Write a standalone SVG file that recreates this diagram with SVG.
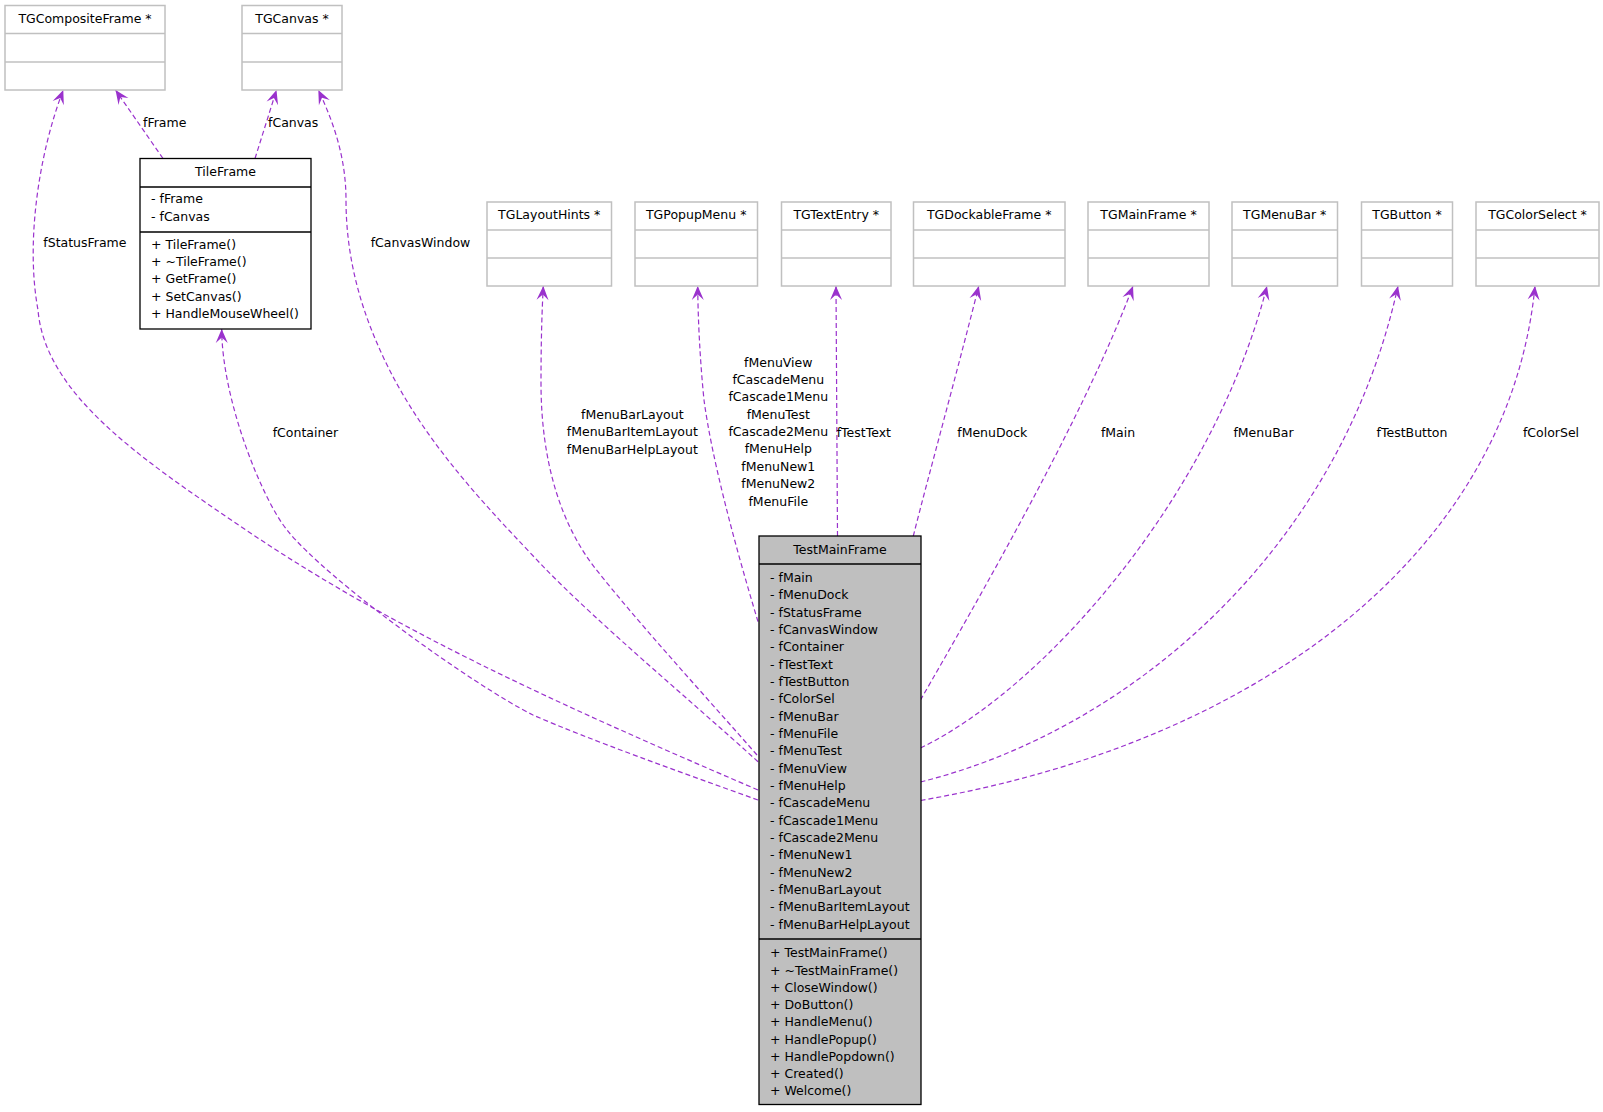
<svg xmlns="http://www.w3.org/2000/svg" width="1603" height="1112" viewBox="0 0 1603 1112">
<style>
text{font-family:"DejaVu Sans","Liberation Sans",sans-serif;font-size:12.5px;fill:#000}
.mid{text-anchor:middle}
.ext rect{fill:#fff;stroke:#c0c0c0;stroke-width:1.5}
.ext line{stroke:#c0c0c0;stroke-width:1.5}
.cls rect{stroke:#000;stroke-width:1.3}
.cls line{stroke:#000;stroke-width:1.3}
.edge path{fill:none;stroke:#9a32cd;stroke-width:1.2;stroke-dasharray:5,3}
</style>
<defs>
<marker id="vee" markerUnits="userSpaceOnUse" markerWidth="15" markerHeight="13" refX="14" refY="6" orient="auto" viewBox="0 0 15 12" overflow="visible">
<path d="M14,6 L0,0 L5.5,6 L0,12 Z" fill="#9a32cd" stroke="none"/>
</marker>
</defs>
<rect width="1603" height="1112" fill="#fff"/>

<g id="connectors" class="edge">
<path id="e-fFrame" d="M163,158.5 L115.5,90" marker-end="url(#vee)"/>
<path id="e-fCanvas" d="M255,158.5 L276.5,90" marker-end="url(#vee)"/>
<path id="e-fStatusFrame" d="M758,790 C558,704 393,630 243,528 C143,460 45,395 38,310 C25,240 40,150 63.3,90" marker-end="url(#vee)"/>
<path id="e-fContainer" d="M758,800 C680,772 590,740 533,715 C473,685 327,580 287,530 C262,499 222,400 221.7,329" marker-end="url(#vee)"/>
<path id="e-fCanvasWindow" d="M758,761.7 C690,700 600,625 543.3,566.7 C490,510 420,440 380,350 C362,310 346,260 346,200 C346,160 335,125 318.3,90" marker-end="url(#vee)"/>
<path id="e-layout" d="M757,755 C700,690 640,625 595,568 C560,523 541,460 541,383 C541,340 542,310 543.3,286" marker-end="url(#vee)"/>
<path id="e-popup" d="M758,621.7 C735,545 712,460 704,400 C700,360 698,320 697.7,286" marker-end="url(#vee)"/>
<path id="e-fTestText" d="M837.5,536 L836,286" marker-end="url(#vee)"/>
<path id="e-fMenuDock" d="M913.3,536 C930,470 955,380 978.8,286" marker-end="url(#vee)"/>
<path id="e-fMain" d="M920.5,700 C975,605 1085,415 1133,286" marker-end="url(#vee)"/>
<path id="e-fMenuBar" d="M920.5,748 C1050,685 1215,490 1267,286" marker-end="url(#vee)"/>
<path id="e-fTestButton" d="M920.5,782 C1130,730 1340,550 1398,286" marker-end="url(#vee)"/>
<path id="e-fColorSel" d="M920.5,800.5 C1270,740 1510,545 1535,286" marker-end="url(#vee)"/>
</g>

<g id="edge-labels">
<text x="143" y="127">fFrame</text>
<text x="268" y="127">fCanvas</text>
<text x="43.3" y="246.7">fStatusFrame</text>
<text x="370.7" y="246.7">fCanvasWindow</text>
<text x="272.7" y="436.7">fContainer</text>
<text class="mid" x="632.3" y="419">fMenuBarLayout<tspan x="632.3" dy="17.35">fMenuBarItemLayout</tspan><tspan x="632.3" dy="17.35">fMenuBarHelpLayout</tspan></text>
<text class="mid" x="778.3" y="366.7">fMenuView<tspan x="778.3" dy="17.35">fCascadeMenu</tspan><tspan x="778.3" dy="17.35">fCascade1Menu</tspan><tspan x="778.3" dy="17.35">fMenuTest</tspan><tspan x="778.3" dy="17.35">fCascade2Menu</tspan><tspan x="778.3" dy="17.35">fMenuHelp</tspan><tspan x="778.3" dy="17.35">fMenuNew1</tspan><tspan x="778.3" dy="17.35">fMenuNew2</tspan><tspan x="778.3" dy="17.35">fMenuFile</tspan></text>
<text x="836.7" y="436.7">fTestText</text>
<text class="mid" x="992.3" y="436.7">fMenuDock</text>
<text class="mid" x="1118" y="436.7">fMain</text>
<text class="mid" x="1263.5" y="436.7">fMenuBar</text>
<text class="mid" x="1412" y="436.7">fTestButton</text>
<text class="mid" x="1551" y="436.7">fColorSel</text>
</g>

<g id="TGCompositeFrame" class="ext">
<rect x="5" y="5.5" width="160" height="84.5"/>
<line x1="5" y1="33.5" x2="165" y2="33.5"/><line x1="5" y1="62" x2="165" y2="62"/>
<text class="mid" x="85" y="22.7">TGCompositeFrame *</text>
</g>
<g id="TGCanvas" class="ext">
<rect x="242" y="5.5" width="100" height="84.5"/>
<line x1="242" y1="33.5" x2="342" y2="33.5"/><line x1="242" y1="62" x2="342" y2="62"/>
<text class="mid" x="292" y="22.7">TGCanvas *</text>
</g>
<g id="TGLayoutHints" class="ext">
<rect x="487" y="202" width="124.5" height="84"/>
<line x1="487" y1="230" x2="611.5" y2="230"/><line x1="487" y1="258" x2="611.5" y2="258"/>
<text class="mid" x="549.2" y="219.3">TGLayoutHints *</text>
</g>
<g id="TGPopupMenu" class="ext">
<rect x="635" y="202" width="122.5" height="84"/>
<line x1="635" y1="230" x2="757.5" y2="230"/><line x1="635" y1="258" x2="757.5" y2="258"/>
<text class="mid" x="696.2" y="219.3">TGPopupMenu *</text>
</g>
<g id="TGTextEntry" class="ext">
<rect x="781.5" y="202" width="109.5" height="84"/>
<line x1="781.5" y1="230" x2="891" y2="230"/><line x1="781.5" y1="258" x2="891" y2="258"/>
<text class="mid" x="836.2" y="219.3">TGTextEntry *</text>
</g>
<g id="TGDockableFrame" class="ext">
<rect x="913.5" y="202" width="151.5" height="84"/>
<line x1="913.5" y1="230" x2="1065" y2="230"/><line x1="913.5" y1="258" x2="1065" y2="258"/>
<text class="mid" x="989.2" y="219.3">TGDockableFrame *</text>
</g>
<g id="TGMainFrame" class="ext">
<rect x="1088" y="202" width="121" height="84"/>
<line x1="1088" y1="230" x2="1209" y2="230"/><line x1="1088" y1="258" x2="1209" y2="258"/>
<text class="mid" x="1148.5" y="219.3">TGMainFrame *</text>
</g>
<g id="TGMenuBar" class="ext">
<rect x="1232" y="202" width="105.5" height="84"/>
<line x1="1232" y1="230" x2="1337.5" y2="230"/><line x1="1232" y1="258" x2="1337.5" y2="258"/>
<text class="mid" x="1284.7" y="219.3">TGMenuBar *</text>
</g>
<g id="TGButton" class="ext">
<rect x="1361.5" y="202" width="91" height="84"/>
<line x1="1361.5" y1="230" x2="1452.5" y2="230"/><line x1="1361.5" y1="258" x2="1452.5" y2="258"/>
<text class="mid" x="1407" y="219.3">TGButton *</text>
</g>
<g id="TGColorSelect" class="ext">
<rect x="1476" y="202" width="123" height="84"/>
<line x1="1476" y1="230" x2="1599" y2="230"/><line x1="1476" y1="258" x2="1599" y2="258"/>
<text class="mid" x="1537.5" y="219.3">TGColorSelect *</text>
</g>

<g id="TileFrame" class="cls">
<rect x="140" y="158.5" width="171" height="170.5" fill="#fff"/>
<line x1="140" y1="187" x2="311" y2="187"/><line x1="140" y1="232" x2="311" y2="232"/>
<text class="mid" x="225.5" y="176">TileFrame</text>
<text x="151" y="203.3">- fFrame<tspan x="151" dy="17.35">- fCanvas</tspan></text>
<text x="151" y="248.5">+ TileFrame()<tspan x="151" dy="17.35">+ ~TileFrame()</tspan><tspan x="151" dy="17.35">+ GetFrame()</tspan><tspan x="151" dy="17.35">+ SetCanvas()</tspan><tspan x="151" dy="17.35">+ HandleMouseWheel()</tspan></text>
</g>

<g id="TestMainFrame" class="cls">
<rect x="759" y="536" width="162" height="568.5" fill="#bfbfbf"/>
<line x1="759" y1="564" x2="921" y2="564"/><line x1="759" y1="939" x2="921" y2="939"/>
<text class="mid" x="840" y="554">TestMainFrame</text>
<text x="770" y="582">- fMain<tspan x="770" dy="17.33">- fMenuDock</tspan><tspan x="770" dy="17.33">- fStatusFrame</tspan><tspan x="770" dy="17.33">- fCanvasWindow</tspan><tspan x="770" dy="17.33">- fContainer</tspan><tspan x="770" dy="17.33">- fTestText</tspan><tspan x="770" dy="17.33">- fTestButton</tspan><tspan x="770" dy="17.33">- fColorSel</tspan><tspan x="770" dy="17.33">- fMenuBar</tspan><tspan x="770" dy="17.33">- fMenuFile</tspan><tspan x="770" dy="17.33">- fMenuTest</tspan><tspan x="770" dy="17.33">- fMenuView</tspan><tspan x="770" dy="17.33">- fMenuHelp</tspan><tspan x="770" dy="17.33">- fCascadeMenu</tspan><tspan x="770" dy="17.33">- fCascade1Menu</tspan><tspan x="770" dy="17.33">- fCascade2Menu</tspan><tspan x="770" dy="17.33">- fMenuNew1</tspan><tspan x="770" dy="17.33">- fMenuNew2</tspan><tspan x="770" dy="17.33">- fMenuBarLayout</tspan><tspan x="770" dy="17.33">- fMenuBarItemLayout</tspan><tspan x="770" dy="17.33">- fMenuBarHelpLayout</tspan></text>
<text x="770" y="957.3">+ TestMainFrame()<tspan x="770" dy="17.25">+ ~TestMainFrame()</tspan><tspan x="770" dy="17.25">+ CloseWindow()</tspan><tspan x="770" dy="17.25">+ DoButton()</tspan><tspan x="770" dy="17.25">+ HandleMenu()</tspan><tspan x="770" dy="17.25">+ HandlePopup()</tspan><tspan x="770" dy="17.25">+ HandlePopdown()</tspan><tspan x="770" dy="17.25">+ Created()</tspan><tspan x="770" dy="17.25">+ Welcome()</tspan></text>
</g>
</svg>
